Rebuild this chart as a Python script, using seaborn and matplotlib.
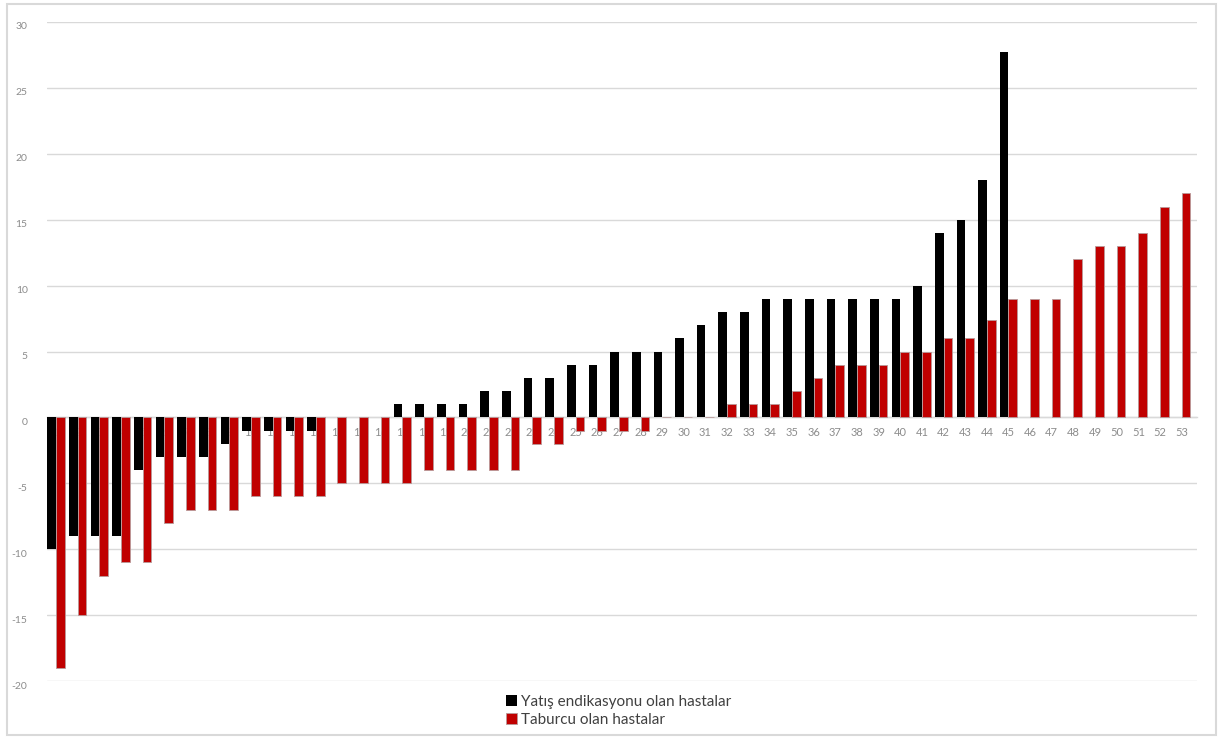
import numpy as np
import pandas as pd
import matplotlib
matplotlib.use("Agg")
import matplotlib.pyplot as plt
import matplotlib.transforms as mtransforms
from matplotlib.patches import Rectangle, Patch
import seaborn as sns

# Patient numbers and the change for each group
patients = list(range(1, 54))
yatis = [-10, -9, -9, -9, -4, -3, -3, -3, -2, -1, -1, -1, -1, 0, 0, 0,
         1, 1, 1, 1, 2, 2, 3, 3, 4, 4, 5, 5, 5, 6, 7, 8, 8, 9, 9, 9, 9,
         9, 9, 9, 10, 14, 15, 18, 27.7, 0, 0, 0, 0, 0, 0, 0, 0]
taburcu = [-19, -15, -12, -11, -11, -8, -7, -7, -7, -6, -6, -6, -6, -5, -5,
           -5, -5, -4, -4, -4, -4, -4, -2, -2, -1, -1, -1, -1, 0, 0, 0, 1,
           1, 1, 2, 3, 4, 4, 4, 5, 5, 6, 6, 7.4, 9, 9, 9, 12, 13, 13, 14,
           16, 17]
series_names = ["Yatış endikasyonu olan hastalar", "Taburcu olan hastalar"]
y_ticks = list(range(-20, 31, 5))

df = pd.DataFrame({
    "hasta": [str(p) for p in patients] * 2,
    "deger": yatis + taburcu,
    "grup": [series_names[0]] * len(patients) + [series_names[1]] * len(patients),
})

sns.set_theme(style="white")
plt.rcParams["font.family"] = ["Lato", "DejaVu Sans"]

fig = plt.figure(figsize=(12.18, 7.38), dpi=100)
ax = fig.add_axes([0.0386, 0.0772, 0.944, 0.893])

palette = {series_names[0]: "#000000", series_names[1]: "#C00000"}
sns.barplot(data=df, x="hasta", y="deger", hue="grup", palette=palette,
            order=[str(p) for p in patients], hue_order=series_names,
            width=0.8, dodge=True, legend=False, ax=ax, zorder=3,
            saturation=1, edgecolor="none", linewidth=0)

# Red bars get a thin light outline
n = len(patients)
for i, bar in enumerate(ax.patches):
    if i >= n:
        bar.set_edgecolor("#b89a9a")
        bar.set_linewidth(0.6)

ax.set_ylim(-20, 30)
ax.set_xlim(-0.42, 52.7)
ax.set_yticks(y_ticks)
ax.set_yticklabels([str(t) for t in y_ticks])
ax.yaxis.grid(True, color="#d9d9d9", linewidth=1.0)
ax.xaxis.grid(False)
ax.set_axisbelow(True)

for side in ["top", "right", "left"]:
    ax.spines[side].set_visible(False)
ax.spines["bottom"].set_position(("data", 0))
ax.spines["bottom"].set_color("#d9d9d9")
ax.spines["bottom"].set_linewidth(1.0)

ax.tick_params(axis="x", length=0, pad=7, labelsize=8, labelcolor="#8c8c8c")
ax.tick_params(axis="y", length=0, pad=14, labelsize=7.5, labelcolor="#8c8c8c")
offset = mtransforms.ScaledTranslation(0, -4 / 100, fig.dpi_scale_trans)
for lbl in ax.get_yticklabels():
    lbl.set_transform(lbl.get_transform() + offset)

ax.set_xlabel("")
ax.set_ylabel("")

handles = [Patch(facecolor="#000000", edgecolor="none"),
           Patch(facecolor="#C00000", edgecolor="#b89a9a", linewidth=0.6)]
fig.legend(handles, series_names, loc="center", bbox_to_anchor=(0.508, 0.037),
           frameon=False, fontsize=11, labelcolor="#404040",
           handlelength=0.7, handleheight=0.7, handletextpad=0.3,
           labelspacing=0.25, borderaxespad=0)

# Light frame around the whole chart
fig.patches.append(Rectangle((7 / 1218, 3 / 738), 1209 / 1218, 731 / 738,
                             transform=fig.transFigure, fill=False,
                             edgecolor="#d9d9d9", linewidth=1.5))

fig.savefig("out.png", dpi=100, facecolor="white")
